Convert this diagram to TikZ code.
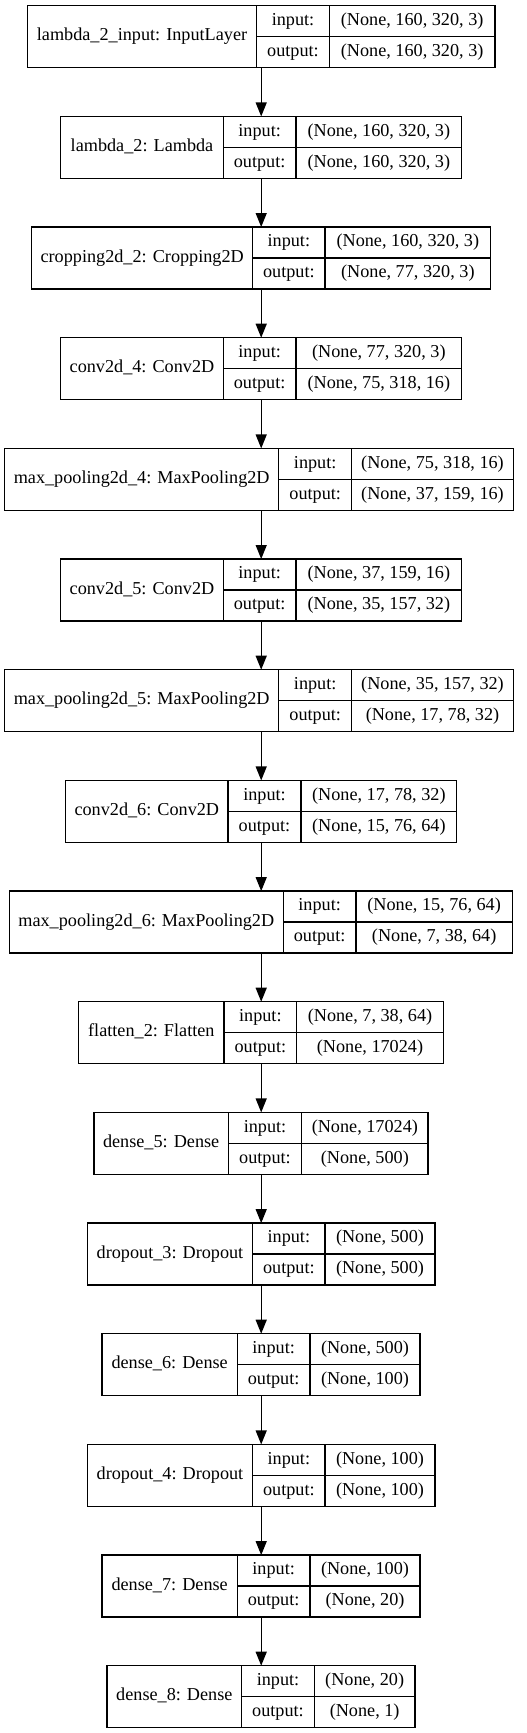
\documentclass[tikz,border=0pt]{standalone}
\usepackage{fontspec}
\setmainfont{Liberation Serif}
\usetikzlibrary{arrows.meta}
\tikzset{
  box/.style={draw=black, line width=1.3bp, inner sep=0pt, outer sep=0pt, anchor=north west},
  cell/.style={draw=black, line width=1.3bp},
  txt/.style={inner sep=0pt, font=\fontsize{18.2bp}{22bp}\selectfont, text height=12.5bp, text depth=4bp},
  arr/.style={line width=1.3bp, -{Triangle[length=14bp,width=11bp]}},
}
\newcommand\kerlayer[9]{%
  \node[box, minimum width={(#6-#3)*1bp}, minimum height=62bp] (#1) at (#3,#2) {};
  \draw[cell] (#4,#2) -- ++(0,62) (#5,#2) -- ++(0,62) (#4,#2+31) -- (#6,#2+31);
  \node[txt] (#1l) at ({(#3+#4)/2},#2+31) {#7};
  \node[txt] (#1i) at ({(#4+#5)/2},#2+15.5) {input:};
  \node[txt] (#1o) at ({(#4+#5)/2},#2+46.5) {output:};
  \node[txt] (#1iv) at ({(#5+#6)/2},#2+15.5) {#8};
  \node[txt] (#1ov) at ({(#5+#6)/2},#2+46.5) {#9};
}
\begin{document}
\begin{tikzpicture}[x=1bp,y=-1bp]
\useasboundingbox (0,0) rectangle (527,1733);
\coordinate (axis) at (261.2,0);
\kerlayer{b0}{5.7}{27.3}{256.7}{329.3}{495}{lambda\_2\_input: InputLayer}{(None, 160, 320, 3)}{(None, 160, 320, 3)}
\kerlayer{b1}{116.4}{60.7}{223.3}{296}{461.7}{lambda\_2: Lambda}{(None, 160, 320, 3)}{(None, 160, 320, 3)}
\kerlayer{b2}{227.0}{31.7}{252.7}{325}{490.7}{cropping2d\_2: Cropping2D}{(None, 160, 320, 3)}{(None, 77, 320, 3)}
\kerlayer{b3}{337.7}{60.7}{223.3}{296}{461.7}{conv2d\_4: Conv2D}{(None, 77, 320, 3)}{(None, 75, 318, 16)}
\kerlayer{b4}{448.4}{4.7}{278.7}{351.7}{513.3}{max\_pooling2d\_4: MaxPooling2D}{(None, 75, 318, 16)}{(None, 37, 159, 16)}
\kerlayer{b5}{559.0}{60.7}{223.3}{296}{461.7}{conv2d\_5: Conv2D}{(None, 37, 159, 16)}{(None, 35, 157, 32)}
\kerlayer{b6}{669.7}{4.7}{278.7}{351.7}{513.3}{max\_pooling2d\_5: MaxPooling2D}{(None, 35, 157, 32)}{(None, 17, 78, 32)}
\kerlayer{b7}{780.4}{65.7}{228}{301}{456.7}{conv2d\_6: Conv2D}{(None, 17, 78, 32)}{(None, 15, 76, 64)}
\kerlayer{b8}{891.1}{9.3}{283.3}{356}{512.3}{max\_pooling2d\_6: MaxPooling2D}{(None, 15, 76, 64)}{(None, 7, 38, 64)}
\kerlayer{b9}{1001.7}{78.7}{224}{296.7}{443.3}{flatten\_2: Flatten}{(None, 7, 38, 64)}{(None, 17024)}
\kerlayer{b10}{1112.4}{94}{228.3}{301.7}{428}{dense\_5: Dense}{(None, 17024)}{(None, 500)}
\kerlayer{b11}{1223.1}{87.3}{252.7}{325}{435}{dropout\_3: Dropout}{(None, 500)}{(None, 500)}
\kerlayer{b12}{1333.7}{102}{237.3}{310}{420}{dense\_6: Dense}{(None, 500)}{(None, 100)}
\kerlayer{b13}{1444.4}{87.3}{252.7}{325}{435}{dropout\_4: Dropout}{(None, 100)}{(None, 100)}
\kerlayer{b14}{1555.1}{102}{237.3}{310}{420}{dense\_7: Dense}{(None, 100)}{(None, 20)}
\kerlayer{b15}{1665.7}{107}{241.7}{314.3}{415}{dense\_8: Dense}{(None, 20)}{(None, 1)}
\foreach \a/\b in {b0/b1,b1/b2,b2/b3,b3/b4,b4/b5,b5/b6,b6/b7,b7/b8,b8/b9,b9/b10,b10/b11,b11/b12,b12/b13,b13/b14,b14/b15}
  \draw[arr] (\a.south -| axis) -- (\b.north -| axis);
\end{tikzpicture}
\end{document}
